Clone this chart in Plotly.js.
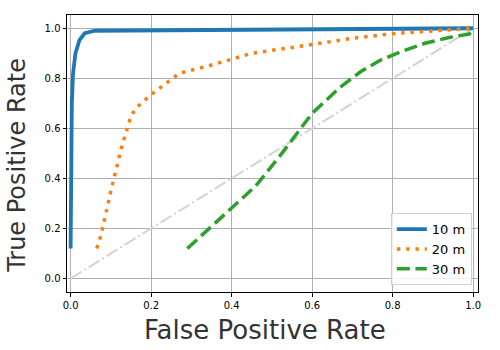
<!DOCTYPE html>
<html>
<head>
<script src="https://cdn.plot.ly/plotly-3.0.1.min.js"></script>
<style>body{margin:0;} #chart{width:500px;height:350px;}</style>
</head>
<body>
<div id="chart"></div>
<script>
// ROC curves
const fpr10 = [0.0, 0.001, 0.003, 0.006, 0.012, 0.022, 0.035, 0.06, 1.0];
const tpr10 = [0.12, 0.4, 0.7, 0.82, 0.9, 0.953, 0.98, 0.99, 1.0];

const fpr20 = [0.065, 0.075, 0.1, 0.126, 0.15, 0.163, 0.2, 0.27, 0.35, 0.45, 0.6, 0.7, 0.81, 0.92, 1.0];
const tpr20 = [0.12, 0.17, 0.35, 0.52, 0.65, 0.682, 0.735, 0.82, 0.853, 0.9, 0.935, 0.96, 0.98, 0.99, 1.0];

const fpr30 = [0.29, 0.46, 0.52, 0.6, 0.67, 0.72, 0.77, 0.82, 0.88, 0.94, 0.99, 1.0];
const tpr30 = [0.12, 0.37, 0.49, 0.66, 0.765, 0.826, 0.873, 0.906, 0.94, 0.963, 0.977, 0.99];

const chance = [0, 1];

const xTitle = 'False Positive Rate';
const yTitle = 'True Positive Rate';

const font = 'DejaVu Sans, sans-serif';

let traces = [
  {x: chance, y: chance, mode: 'lines', showlegend: false, hoverinfo: 'skip',
   line: {color: '#d3d3d3', width: 2, dash: '12.8px,3.2px,2px,3.2px'}},
  {x: fpr10, y: tpr10, mode: 'lines', name: '10 m',
   line: {color: '#1f77b4', width: 3.8}},
  {x: fpr20, y: tpr20, mode: 'lines', name: '20 m',
   line: {color: '#ff7f0e', width: 3.5, dash: '3.5px,5.8px'}},
  {x: fpr30, y: tpr30, mode: 'lines', name: '30 m',
   line: {color: '#2ca02c', width: 3.5, dash: '13px,5.6px'}}
];

let axisCommon = {
  showgrid: true, gridcolor: '#b0b0b0', gridwidth: 1,
  zeroline: false, showline: true, linecolor: 'black', linewidth: 1, mirror: true,
  ticks: 'outside', ticklen: 3.5, tickcolor: 'black', tickwidth: 1,
  tickfont: {family: font, size: 10, color: 'black'},
  tickformat: '.1f', dtick: 0.2
};

let layout = {
  width: 500, height: 350,
  margin: {l: 67, r: 22, t: 15, b: 58},
  paper_bgcolor: 'white', plot_bgcolor: 'white',
  font: {family: font},
  xaxis: Object.assign({}, axisCommon, {range: [-0.009, 1.012]}),
  yaxis: Object.assign({}, axisCommon, {range: [-0.054, 1.053]}),
  // axis titles as annotations so they can sit where the reference has them
  annotations: [
    {text: xTitle, xref: 'paper', yref: 'paper', x: 0.482, y: 0, xanchor: 'center', yanchor: 'top',
     yshift: -21, showarrow: false, font: {family: font, size: 26, color: '#333'}},
    {text: yTitle, xref: 'paper', yref: 'paper', x: 0, y: 0.477, xanchor: 'right', yanchor: 'middle',
     xshift: -34, yshift: -6, textangle: -90, showarrow: false, font: {family: font, size: 24, color: '#333'}}
  ],
  legend: {
    x: 0.985, y: 0.025, xanchor: 'right', yanchor: 'bottom',
    bgcolor: 'rgba(255,255,255,0.8)', bordercolor: '#d0d0d0', borderwidth: 1,
    font: {family: font, size: 13, color: 'black'},
    itemwidth: 30, tracegroupgap: 0
  },
  showlegend: true
};

Plotly.newPlot('chart', traces, layout, {staticPlot: true});
</script>
</body>
</html>
